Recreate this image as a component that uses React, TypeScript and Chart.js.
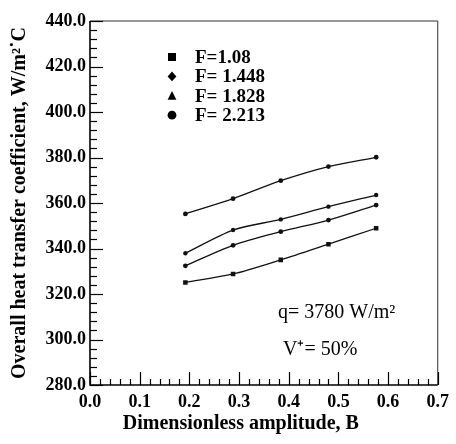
import React, { useEffect, useRef } from "react";
import { Chart, registerables } from "chart.js";

Chart.register(...registerables);

// ---- data ----
const amplitudeB = [0.192, 0.288, 0.384, 0.48, 0.576];
const seriesF108 = [325.1, 328.8, 335.0, 341.9, 348.9];
const seriesF1448 = [332.4, 341.4, 347.4, 352.5, 359.1];
const seriesF1828 = [337.9, 348.1, 352.8, 358.4, 363.5];
const seriesF2213 = [355.2, 361.9, 369.8, 376.0, 380.1];
const legendLabels = ["F=1.08", "F= 1.448", "F= 1.828", "F= 2.213"];
const legendMarkers = ["square", "diamond", "triangle", "circle"];
const annotationLines = ["q= 3780 W/m\u00B2", "V\u207A= 50%"];
const xTitle = "Dimensionless amplitude, B";
const yTitle = "Overall heat transfer coefficient, W/m\u00B2\u02D9C";
const xRange = [0, 0.7];
const yRange = [280, 440];
const xMajorStep = 0.1;
const xMinorStep = 0.02;
const yMajorStep = 20;
const yMinorStep = 4;

const SERIF = "'Liberation Serif', 'Times New Roman', serif";

const toPoints = (ys: number[]) => amplitudeB.map((x, i) => ({ x, y: ys[i] }));

function drawMarker(ctx: CanvasRenderingContext2D, kind: string, x: number, y: number, r: number) {
  ctx.beginPath();
  if (kind === "square") {
    ctx.rect(x - r, y - r, 2 * r, 2 * r);
  } else if (kind === "diamond") {
    ctx.moveTo(x, y - r * 1.2);
    ctx.lineTo(x + r * 1.1, y);
    ctx.lineTo(x, y + r * 1.2);
    ctx.lineTo(x - r * 1.1, y);
    ctx.closePath();
  } else if (kind === "triangle") {
    ctx.moveTo(x, y - r * 1.2);
    ctx.lineTo(x + r * 1.1, y + r);
    ctx.lineTo(x - r * 1.1, y + r);
    ctx.closePath();
  } else {
    ctx.arc(x, y, r * 1.1, 0, Math.PI * 2);
  }
  ctx.fill();
}

const decorPlugin = {
  id: "decor",
  afterDraw(chart: any) {
    const { ctx, chartArea } = chart;
    const xs = chart.scales.x;
    const ys = chart.scales.y;
    const { left, right, top, bottom } = chartArea;
    ctx.save();
    // frame
    ctx.lineWidth = 1;
    ctx.strokeStyle = "#333";
    ctx.beginPath();
    ctx.moveTo(left, top);
    ctx.lineTo(right, top);
    ctx.lineTo(right, bottom);
    ctx.stroke();
    ctx.strokeStyle = "#000";
    ctx.lineWidth = 1.6;
    ctx.beginPath();
    ctx.moveTo(left, top);
    ctx.lineTo(left, bottom);
    ctx.lineTo(right, bottom);
    ctx.stroke();
    // ticks inward
    ctx.lineWidth = 1.2;
    const nY = Math.round((yRange[1] - yRange[0]) / yMinorStep);
    const perMajorY = Math.round(yMajorStep / yMinorStep);
    for (let i = 0; i <= nY; i++) {
      const v = yRange[0] + i * yMinorStep;
      const py = Math.round(ys.getPixelForValue(v)) + 0.5;
      const len = i % perMajorY === 0 ? 13 : 7;
      ctx.beginPath();
      ctx.moveTo(left, py);
      ctx.lineTo(left + len, py);
      ctx.stroke();
    }
    const nX = Math.round((xRange[1] - xRange[0]) / xMinorStep);
    const perMajorX = Math.round(xMajorStep / xMinorStep);
    for (let i = 0; i <= nX; i++) {
      const v = xRange[0] + i * xMinorStep;
      const px = Math.round(xs.getPixelForValue(v)) + 0.5;
      const len = i % perMajorX === 0 ? 13 : 6;
      ctx.beginPath();
      ctx.moveTo(px, bottom);
      ctx.lineTo(px, bottom - len);
      ctx.stroke();
    }
    // legend
    ctx.fillStyle = "#000";
    ctx.font = `bold 19px ${SERIF}`;
    ctx.textBaseline = "middle";
    ctx.textAlign = "left";
    legendLabels.forEach((label, i) => {
      const y = top + 36 + i * 19.4;
      drawMarker(ctx, legendMarkers[i], left + 82, y, 4);
      ctx.fillText(label, left + 105, y + 1);
    });
    // annotations
    ctx.font = `20px ${SERIF}`;
    ctx.fillText(annotationLines[0], left + 188, bottom - 72);
    ctx.fillText(annotationLines[1], left + 193, bottom - 35);
    // x title
    ctx.font = `bold 20px ${SERIF}`;
    ctx.textAlign = "center";
    ctx.fillText(xTitle, (left + right) / 2 - 23, bottom + 39);
    ctx.restore();
  },
};

export default function App() {
  const ref = useRef<HTMLCanvasElement | null>(null);
  useEffect(() => {
    document.body.style.margin = "0";
    const canvas = ref.current;
    if (!canvas) return;
    const mk = (ys: number[], label: string, style: string, r: number) => ({
      label,
      data: toPoints(ys),
      borderColor: "#111",
      backgroundColor: "#111",
      borderWidth: 1.3,
      pointStyle: style,
      pointRadius: r,
      pointBorderWidth: 0,
      tension: 0.3,
      showLine: true,
    });
    const chart = new Chart(canvas, {
      type: "scatter",
      data: {
        datasets: [
          mk(seriesF108, legendLabels[0], "rect", 3.2),
          mk(seriesF1448, legendLabels[1], "circle", 2.4),
          mk(seriesF1828, legendLabels[2], "circle", 2.2),
          mk(seriesF2213, legendLabels[3], "circle", 2.4),
        ],
      },
      options: {
        responsive: false,
        animation: false,
        devicePixelRatio: 1,
        layout: { padding: { top: 21, right: 9, left: 0, bottom: 0 } },
        plugins: { legend: { display: false }, tooltip: { enabled: false } },
        scales: {
          x: {
            type: "linear",
            min: xRange[0],
            max: xRange[1],
            afterFit: (s: any) => {
              s.height = 59;
            },
            afterBuildTicks: (s: any) => {
              const t = [];
              for (let v = xRange[0]; v <= xRange[1] + 1e-9; v += xMajorStep) t.push({ value: Math.round(v * 10) / 10 });
              s.ticks = t;
            },
            ticks: {
              callback: (v: any) => Number(v).toFixed(1),
              color: "#000",
              font: { family: SERIF, size: 18, weight: "bold" },
              padding: 7,
              maxRotation: 0,
              autoSkip: false,
            },
            grid: { display: false, drawTicks: false },
            border: { display: false },
          },
          y: {
            type: "linear",
            min: yRange[0],
            max: yRange[1],
            afterFit: (s: any) => {
              s.width = 90;
            },
            ticks: {
              stepSize: yMajorStep,
              callback: (v: any) => Number(v).toFixed(1),
              color: "#000",
              font: { family: SERIF, size: 18, weight: "bold" },
              padding: 4,
              autoSkip: false,
            },
            grid: { display: false, drawTicks: false },
            border: { display: false },
            title: {
              display: true,
              text: yTitle,
              color: "#000",
              font: { family: SERIF, size: 20, weight: "bold" },
              padding: { top: 8, bottom: 0 },
            },
          },
        },
      },
      plugins: [decorPlugin],
    } as any);
    return () => chart.destroy();
  }, []);
  return <canvas ref={ref} width={456} height={444} style={{ display: "block" }} />;
}
